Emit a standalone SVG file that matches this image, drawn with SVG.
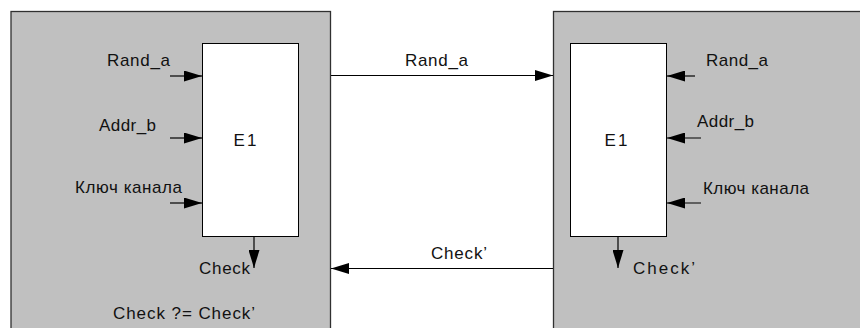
<svg xmlns="http://www.w3.org/2000/svg" width="860" height="328" viewBox="0 0 860 328">
<style>
.panel{fill:#c0c0c0;stroke:#303030;stroke-width:1.3}
.blk{fill:#ffffff;stroke:#000000;stroke-width:1}
.ln{stroke:#000000;stroke-width:1.2;fill:none}
text{font-family:"Liberation Sans",Arial,sans-serif;font-size:17px;fill:#111111}
</style>
<defs>
<marker id="ah" markerWidth="18" markerHeight="11" refX="18" refY="5.5" orient="auto" markerUnits="userSpaceOnUse">
<path d="M0,0 L18,5.5 L0,11 Z" fill="#000"/>
</marker>
</defs>
<rect x="0" y="0" width="860" height="328" fill="#ffffff"/>
<g id="left-panel">
<rect class="panel" x="11" y="11.5" width="319.5" height="330"/>
</g>
<g id="right-panel">
<rect class="panel" x="553.5" y="11.5" width="330" height="330"/>
</g>
<g id="left-e1">
<rect class="blk" x="202.5" y="43.5" width="96" height="193"/>
<text x="245" y="146" text-anchor="middle" textLength="23" lengthAdjust="spacing">E1</text>
</g>
<g id="right-e1">
<rect class="blk" x="570.5" y="43.5" width="96" height="193"/>
<text x="616" y="146" text-anchor="middle" textLength="23" lengthAdjust="spacing">E1</text>
</g>
<g id="labels">
<text x="107" y="66" textLength="63" lengthAdjust="spacing">Rand_a</text>
<text x="99" y="131" textLength="57" lengthAdjust="spacing">Addr_b</text>
<text x="75" y="193" textLength="107" lengthAdjust="spacing">Ключ канала</text>
<text x="199" y="274" textLength="51" lengthAdjust="spacing">Check</text>
<text x="113" y="319" textLength="142" lengthAdjust="spacing">Check ?= Check’</text>
<text x="706" y="66" textLength="62" lengthAdjust="spacing">Rand_a</text>
<text x="697" y="127" textLength="57" lengthAdjust="spacing">Addr_b</text>
<text x="703" y="194" textLength="106" lengthAdjust="spacing">Ключ канала</text>
<text x="633" y="274" textLength="62" lengthAdjust="spacing">Check’</text>
<text x="405" y="66" textLength="63" lengthAdjust="spacing">Rand_a</text>
<text x="431" y="259" textLength="56" lengthAdjust="spacing">Check’</text>
</g>
<g id="connectors">
<line class="ln" x1="170" y1="76" x2="202" y2="76" marker-end="url(#ah)"/>
<line class="ln" x1="170" y1="138" x2="202" y2="138" marker-end="url(#ah)"/>
<line class="ln" x1="170" y1="203" x2="202" y2="203" marker-end="url(#ah)"/>
<line class="ln" x1="254" y1="236" x2="254" y2="268" marker-end="url(#ah)"/>
<line class="ln" x1="695" y1="76" x2="667" y2="76" marker-end="url(#ah)"/>
<line class="ln" x1="701" y1="138" x2="667" y2="138" marker-end="url(#ah)"/>
<line class="ln" x1="701" y1="203" x2="667" y2="203" marker-end="url(#ah)"/>
<line class="ln" x1="618" y1="236" x2="618" y2="268" marker-end="url(#ah)"/>
<line class="ln" x1="331" y1="75.5" x2="553" y2="75.5" marker-end="url(#ah)"/>
<line class="ln" x1="553" y1="268.5" x2="331" y2="268.5" marker-end="url(#ah)"/>
</g>
</svg>
